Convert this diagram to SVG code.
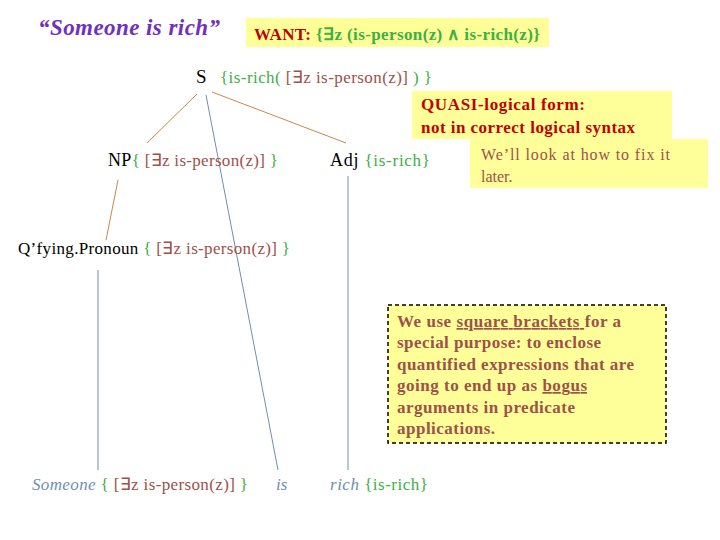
<svg xmlns="http://www.w3.org/2000/svg" width="720" height="540" viewBox="0 0 720 540">
<style>
text{font-family:"Liberation Serif",serif;font-size:17px}
.g{fill:#3cb043}.b{fill:#a0504a}.k{fill:#000}.r{fill:#c00000}
.box{fill:#ffff99}
.o{stroke:#c8884a;stroke-width:1;fill:none}.u{stroke:#6e8fb0;stroke-width:1;fill:none}
</style>
<rect width="720" height="540" fill="#fff"/>
<g id="title"><text x="38" y="35" textLength="182" style="font-size:23px;font-style:italic;font-weight:bold;fill:#7030c0">“Someone is rich”</text></g>
<g id="want"><rect class="box" x="246" y="18" width="303" height="29"/>
<text x="254" y="40" textLength="286" style="font-weight:bold"><tspan class="r">WANT: </tspan><tspan class="g">{∃z (is-person(z) ∧ is-rich(z)}</tspan></text></g>
<g id="edges">
<line class="o" x1="197" y1="94" x2="147" y2="143"/>
<line class="o" x1="212" y1="92" x2="346" y2="143"/>
<line class="u" x1="206" y1="95" x2="278" y2="470"/>
<line class="o" x1="118" y1="180" x2="106" y2="240"/>
<line class="u" x1="98" y1="270" x2="98" y2="470"/>
<line class="u" x1="348" y1="176" x2="348" y2="470"/>
</g>
<g id="S"><text x="196" y="83" class="k" style="font-size:19px">S</text>
<text x="220" y="83" textLength="212"><tspan class="g">{is-rich( </tspan><tspan class="b">[∃z is-person(z)]</tspan><tspan class="g"> ) }</tspan></text></g>
<g id="quasi"><rect class="box" x="412" y="91" width="260" height="48"/>
<text x="421" y="110" class="r" textLength="164" style="font-weight:bold">QUASI-logical form:</text>
<text x="421" y="133" class="r" textLength="214" style="font-weight:bold">not in correct logical syntax</text></g>
<g id="fix"><rect class="box" x="470" y="139" width="238" height="49"/>
<text x="481" y="160" class="b" textLength="189" style="font-size:16px">We’ll look at how to fix it</text>
<text x="481" y="182" class="b" style="font-size:16px">later.</text></g>
<g id="NP"><text x="108" y="166" textLength="170"><tspan class="k" style="font-size:18px">NP</tspan><tspan class="g">{ </tspan><tspan class="b">[∃z is-person(z)]</tspan><tspan class="g"> }</tspan></text></g>
<g id="Adj"><text x="330" y="166" textLength="100"><tspan class="k" style="font-size:18px">Adj </tspan><tspan class="g">{is-rich}</tspan></text></g>
<g id="QP"><text x="18" y="254" textLength="272"><tspan class="k">Q’fying.Pronoun </tspan><tspan class="g">{ </tspan><tspan class="b">[∃z is-person(z)]</tspan><tspan class="g"> }</tspan></text></g>
<g id="note"><rect class="box" x="388" y="305" width="278" height="138" stroke="#000" stroke-width="1.5" stroke-dasharray="4,3"/>
<g class="b" style="font-weight:bold;font-size:16px">
<text x="397" y="327" textLength="224">We use <tspan text-decoration="underline">square brackets </tspan>for a</text>
<text x="397" y="348" textLength="204">special purpose: to enclose</text>
<text x="397" y="370" textLength="237">quantified expressions that are</text>
<text x="397" y="391" textLength="190">going to end up as <tspan text-decoration="underline">bogus</tspan></text>
<text x="397" y="413" textLength="178">arguments in predicate</text>
<text x="397" y="434" textLength="98">applications.</text></g></g>
<g id="someone"><text x="32" y="490" textLength="216"><tspan style="fill:#6e8fb0;font-style:italic">Someone </tspan><tspan class="g">{ </tspan><tspan class="b">[∃z is-person(z)]</tspan><tspan class="g"> }</tspan></text></g>
<g id="is"><text x="276" y="490" style="fill:#6e8fb0;font-style:italic">is</text></g>
<g id="rich"><text x="330" y="490" textLength="98"><tspan style="fill:#6e8fb0;font-style:italic">rich </tspan><tspan class="g">{is-rich}</tspan></text></g>
</svg>
